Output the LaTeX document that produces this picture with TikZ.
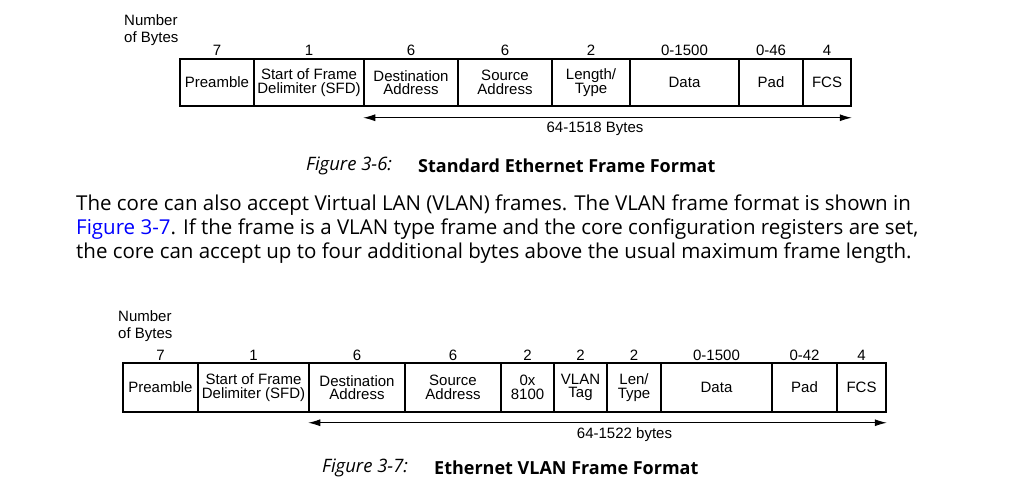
\documentclass[tikz,border=0pt]{standalone}
\usepackage{fontspec}
\setmainfont{Open Sans}
\newfontfamily\arialfont{Liberation Sans}
\usetikzlibrary{arrows.meta,positioning,calc}
\definecolor{LienBleu}{HTML}{0000FF}

\begin{document}
\begin{tikzpicture}[x=1pt,y=-1pt,
  champ/.style={draw,line width=1.5pt,inner sep=0pt,align=center,font=\arialfont\fontsize{15}{13.5}\selectfont},
  octets/.style={inner sep=0pt,font=\arialfont\fontsize{15}{16.5}\selectfont},
  fleche/.style={{Latex[length=12pt,width=7pt]}-{Latex[length=12pt,width=7pt]},line width=0.9pt},
  legende/.style={inner sep=0pt,anchor=west,font=\fontsize{18}{24}\selectfont},
  numfig/.style={legende,font=\fontsize{18.5}{24}\selectfont\itshape}]
  \useasboundingbox (0,0) rectangle (1016,486);
  % --- Figure 3-6 : trame Ethernet standard ---
  \node[octets,anchor=west,align=left] (nbA) at (124,30) {Number\\of Bytes};
  \node[champ,minimum width=74,minimum height=47] (preA) at (217,82.5) {Preamble};
  \node[champ,minimum width=110,minimum height=47] (sfdA) at (309,82.5) {Start of Frame\\Delimiter (SFD)};
  \node[champ,minimum width=94,minimum height=47] (dstA) at (411,82.5) {Destination\\Address};
  \node[champ,minimum width=94,minimum height=47] (srcA) at (505,82.5) {Source\\Address};
  \node[champ,minimum width=78,minimum height=47] (lenA) at (591,82.5) {Length/\\Type};
  \node[champ,minimum width=109,minimum height=47] (dataA) at (684.5,82.5) {Data};
  \node[champ,minimum width=64,minimum height=47] (padA) at (771,82.5) {Pad};
  \node[champ,minimum width=48,minimum height=47] (fcsA) at (827,82.5) {FCS};
  % nombres d'octets
  \node[octets] (oPreA) at (217,50) {7};
  \node[octets] (oSfdA) at (309,50) {1};
  \node[octets] (oDstA) at (411,50) {6};
  \node[octets] (oSrcA) at (505,50) {6};
  \node[octets] (oLenA) at (591,50) {2};
  \node[octets] (oDataA) at (684.5,50) {0-1500};
  \node[octets] (oPadA) at (771,50) {0-46};
  \node[octets] (oFcsA) at (827,50) {4};
  % longueur totale
  \coordinate (gA) at ($(dstA.south west)+(0,11)$);
  \coordinate (dA) at ($(fcsA.south east)+(0,11)$);
  \draw[fleche] (gA) -- (dA);
  \node[octets] (totA) at (595,129) {64-1518 Bytes};
  \node[numfig] (figA) at (306,166) {Figure 3-6:};
  \node[legende] (titA) at (418,166) {\bfseries Standard Ethernet Frame Format};
  % --- Texte ---
  \node[legende,align=left,font=\fontsize{20.5}{24}\selectfont] (texte) at (76,229) {The core can also accept Virtual LAN (VLAN) frames. The VLAN frame format is shown in\\
    \textcolor{LienBleu}{Figure 3-7}. If the frame is a VLAN type frame and the core configuration registers are set,\\
    the core can accept up to four additional bytes above the usual maximum frame length.};
  % --- Figure 3-7 : trame Ethernet VLAN ---
  \node[octets,anchor=west,align=left] (nbB) at (118,326) {Number\\of Bytes};
  \node[champ,minimum width=75,minimum height=49] (preB) at (160.5,387.5) {Preamble};
  \node[champ,minimum width=111,minimum height=49] (sfdB) at (253.5,387.5) {Start of Frame\\Delimiter (SFD)};
  \node[champ,minimum width=96,minimum height=49] (dstB) at (357,387.5) {Destination\\Address};
  \node[champ,minimum width=96,minimum height=49] (srcB) at (453,387.5) {Source\\Address};
  \node[champ,minimum width=53,minimum height=49] (tpidB) at (527.5,387.5) {0x\\8100};
  \node[champ,minimum width=53,minimum height=49] (tagB) at (580.5,387.5) {VLAN\\Tag};
  \node[champ,minimum width=54,minimum height=49] (lenB) at (634,387.5) {Len/\\Type};
  \node[champ,minimum width=111,minimum height=49] (dataB) at (716.5,387.5) {Data};
  \node[champ,minimum width=65,minimum height=49] (padB) at (804.5,387.5) {Pad};
  \node[champ,minimum width=49,minimum height=49] (fcsB) at (861.5,387.5) {FCS};
  % nombres d'octets
  \node[octets] (oPreB) at (160.5,355) {7};
  \node[octets] (oSfdB) at (253.5,355) {1};
  \node[octets] (oDstB) at (357,355) {6};
  \node[octets] (oSrcB) at (453,355) {6};
  \node[octets] (oTpidB) at (527.5,355) {2};
  \node[octets] (oTagB) at (580.5,355) {2};
  \node[octets] (oLenB) at (634,355) {2};
  \node[octets] (oDataB) at (716.5,355) {0-1500};
  \node[octets] (oPadB) at (804.5,355) {0-42};
  \node[octets] (oFcsB) at (861.5,355) {4};
  % longueur totale
  \coordinate (gB) at ($(dstB.south west)+(0,10)$);
  \coordinate (dB) at ($(fcsB.south east)+(0,10)$);
  \draw[fleche] (gB) -- (dB);
  \node[octets] (totB) at (624.5,435) {64-1522 bytes};
  \node[numfig] (figB) at (322,468) {Figure 3-7:};
  \node[legende] (titB) at (434,468) {\bfseries Ethernet VLAN Frame Format};
\end{tikzpicture}
\end{document}
